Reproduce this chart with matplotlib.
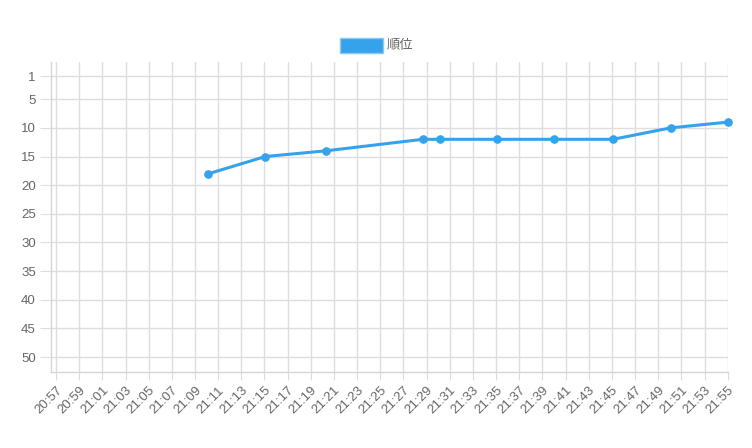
import matplotlib
matplotlib.use("Agg")
import matplotlib.pyplot as plt
import matplotlib.dates as mdates
from matplotlib.patches import Rectangle
import pandas as pd

plt.rcParams['font.family'] = ['Liberation Sans', 'Noto Sans CJK JP', 'DejaVu Sans']

# data
times = ["21:10:10", "21:15:05", "21:20:20", "21:28:40", "21:30:10",
         "21:35:05", "21:40:00", "21:45:05", "21:50:05", "21:55:00"]
ranks = [18, 15, 14, 12, 12, 12, 12, 12, 10, 9]
y_ticks = [1, 5, 10, 15, 20, 25, 30, 35, 40, 45, 50]
series_label = "順位"
x_start = "20:56:34"
x_end = "21:55:00"

base = "2024-01-01 "
t = pd.to_datetime([base + s for s in times])

W, H = 752, 448
fig = plt.figure(figsize=(W / 100, H / 100), dpi=100)
left, right, top, bottom = 51, 727.7, 62.3, 371.7
ax = fig.add_axes([left / W, 1 - bottom / H, (right - left) / W, (bottom - top) / H])

color = '#36A2EB'
grid_c = '#dedede'
text_c = '#666666'

ax.plot(t, ranks, color=color, lw=2.2, marker='o', ms=5.2, mfc=color, mec=color,
        zorder=3, clip_on=False, solid_joinstyle='round')

ax.set_xlim(pd.Timestamp(base + x_start), pd.Timestamp(base + x_end))
ax.set_ylim(52.55, -1.44)
ax.set_yticks(y_ticks)
ax.set_yticklabels([str(v) for v in y_ticks])

ax.xaxis.set_major_locator(mdates.MinuteLocator(byminute=range(1, 60, 2)))
ax.xaxis.set_major_formatter(mdates.DateFormatter('%H:%M'))

ax.grid(True, color=grid_c, lw=1)
ax.set_axisbelow(True)
for s in ['top', 'right']:
    ax.spines[s].set_visible(False)
for s in ['left', 'bottom']:
    ax.spines[s].set_color('#d6d6d6')
    ax.spines[s].set_linewidth(1)

ax.tick_params(axis='y', length=8, color=grid_c, labelsize=9.5, labelcolor=text_c, pad=3)
ax.tick_params(axis='x', length=6, color=grid_c, labelsize=9.5, labelcolor=text_c, pad=3)
for lbl in ax.get_xticklabels():
    lbl.set_rotation(45)
    lbl.set_ha('right')
    lbl.set_va('top')
    lbl.set_rotation_mode('anchor')

# legend
fig.add_artist(Rectangle((339.5 / W, 1 - 53 / H), 43 / W, 15 / H, transform=fig.transFigure,
                         facecolor=color, edgecolor='#8cc8f3', lw=1))
fig.text(387 / W, 1 - 45.5 / H, series_label, color=text_c, fontsize=9.5, va='center', ha='left')

fig.savefig('out.png', dpi=100)
